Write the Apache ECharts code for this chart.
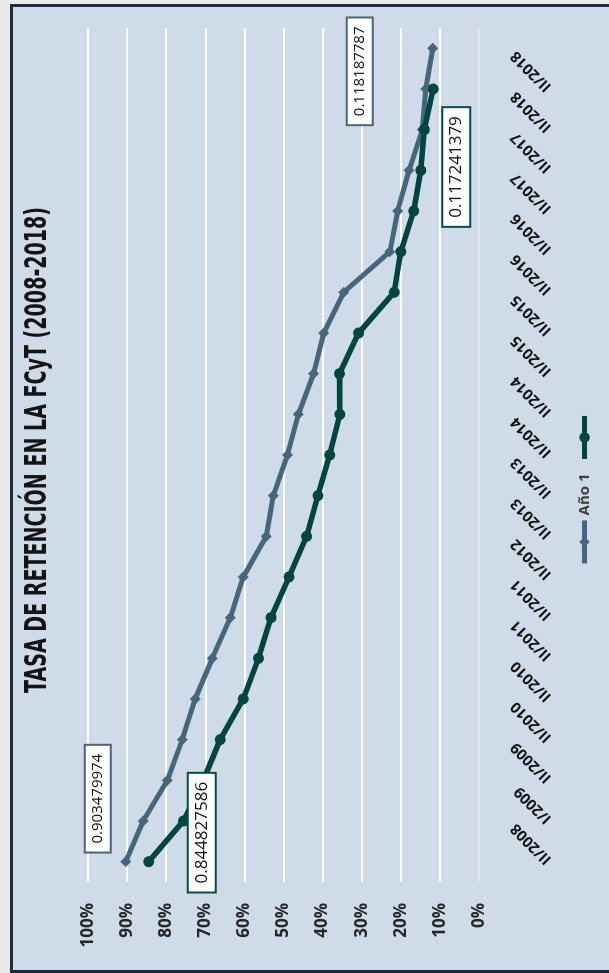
<!DOCTYPE html>
<html>
<head>
<meta charset="utf-8">
<script src="https://cdn.jsdelivr.net/npm/echarts@6/dist/echarts.min.js"></script>
<style>
  html, body { margin: 0; padding: 0; width: 609px; height: 973px; overflow: hidden; background: #e9e9e9; }
  /* chart is drawn landscape, then turned a quarter to the left like the scan */
  #chart { position: absolute; left: 0; top: 0; width: 973px; height: 609px;
           transform-origin: 0 0; transform: translateY(973px) rotate(-90deg); }
</style>
</head>
<body>
<div id="chart"></div>
<script>
var semestres = ["II/2008", "I/2009", "II/2009", "II/2010", "II/2010", "II/2011", "II/2011",
  "II/2012", "II/2013", "II/2013", "II/2014", "II/2014", "II/2015", "II/2015",
  "II/2016", "II/2016", "II/2017", "II/2017", "II/2018", "II/2018", ""];
var anio1 = [0.903479974, 0.859, 0.797, 0.759, 0.726, 0.682, 0.636, 0.603, 0.544, 0.526,
  0.490, 0.462, 0.423, 0.397, 0.346, 0.228, 0.208, 0.179, 0.145, 0.136, 0.118187787];
var serie2 = [0.844827586, 0.756, 0.705, 0.662, 0.603, 0.564, 0.532, 0.486, 0.441, 0.412,
  0.382, 0.356, 0.357, 0.308, 0.217, 0.200, 0.167, 0.149, 0.140, 0.117241379, null];
var porcentajes = [0, 0.1, 0.2, 0.3, 0.4, 0.5, 0.6, 0.7, 0.8, 0.9, 1];

var colorGris = "#46667c";
var colorVerde = "#00463f";

function etiqueta(borde, tam, offset) {
  return {
    show: true,
    position: "inside",
    offset: offset,
    formatter: "{c}",
    fontFamily: "Open Sans",
    fontSize: tam,
    color: "#141414",
    backgroundColor: "#ffffff",
    borderColor: borde,
    borderWidth: 2,
    padding: [5, 8, 4, 8]
  };
}

// only the first and last point carry a value box
function conEtiquetas(valores, borde, tam, offIni, offFin) {
  var ultimo = -1;
  valores.forEach(function (v, i) { if (v !== null) ultimo = i; });
  return valores.map(function (v, i) {
    if (i === 0) return { value: v, label: etiqueta(borde, tam, offIni) };
    if (i === ultimo) return { value: v, label: etiqueta(borde, tam, offFin) };
    return v;
  });
}

var myChart = echarts.init(document.getElementById("chart"));

var option = {
  backgroundColor: "#e9e9e9",
  animation: false,
  graphic: [
    {
      type: "rect",
      z: -10,
      silent: true,
      shape: { x: 1.5, y: 11.5, width: 966, height: 610 },
      style: { fill: "#cfdbe9", stroke: "#1d2b3a", lineWidth: 3 }
    },
    {
      type: "text",
      x: 523,
      y: 38,
      scaleX: 0.615,
      z: 10,
      style: {
        text: "TASA DE RETENCIÓN EN LA FCyT (2008-2018)",
        x: 0,
        y: 0,
        textAlign: "center",
        textVerticalAlign: "middle",
        font: "bold 31px 'DejaVu Sans'",
        fill: "#141414"
      }
    }
  ],
  legend: {
    left: "center",
    top: 572,
    itemWidth: 43,
    itemHeight: 13,
    itemGap: 12,
    lineStyle: { width: 5 },
    textStyle: { fontFamily: "Open Sans", fontWeight: "bold", fontSize: 15, color: "#404040" },
    data: ["Año 1", " "]
  },
  grid: { left: 91, right: 28, top: 88, bottom: 130, containLabel: false },
  xAxis: {
    type: "category",
    data: semestres,
    boundaryGap: true,
    axisLine: { lineStyle: { color: "#d9d9d9", width: 1.5 } },
    axisTick: { show: false },
    axisLabel: {
      interval: 0,
      rotate: 45,
      align: "left",
      verticalAlign: "middle",
      margin: 70,
      fontFamily: "Open Sans",
      fontWeight: "bold",
      fontSize: 15,
      color: "#111111"
    }
  },
  yAxis: {
    type: "value",
    min: porcentajes[0],
    max: porcentajes[porcentajes.length - 1],
    interval: 0.1,
    axisLine: { show: false },
    axisTick: { show: false },
    splitLine: { lineStyle: { color: "#ffffff", width: 2 } },
    axisLabel: {
      margin: 21,
      fontFamily: "Open Sans",
      fontWeight: "bold",
      fontSize: 17,
      color: "#262626",
      formatter: function (v) { return Math.round(v * 100) + "%"; }
    }
  },
  series: [
    {
      name: "Año 1",
      type: "line",
      data: conEtiquetas(anio1, "#4a6479", 15, [63, -28], [-23, -73]),
      symbol: "diamond",
      symbolSize: 11,
      itemStyle: { color: colorGris },
      lineStyle: { color: colorGris, width: 5 },
      z: 3
    },
    {
      name: " ",
      type: "line",
      data: conEtiquetas(serie2, "#0a4a44", 17, [29, 53], [-78, 23]),
      symbol: "circle",
      symbolSize: 11,
      itemStyle: { color: colorVerde },
      lineStyle: { color: colorVerde, width: 5.5 },
      z: 4
    }
  ]
};

myChart.setOption(option);
</script>
</body>
</html>
